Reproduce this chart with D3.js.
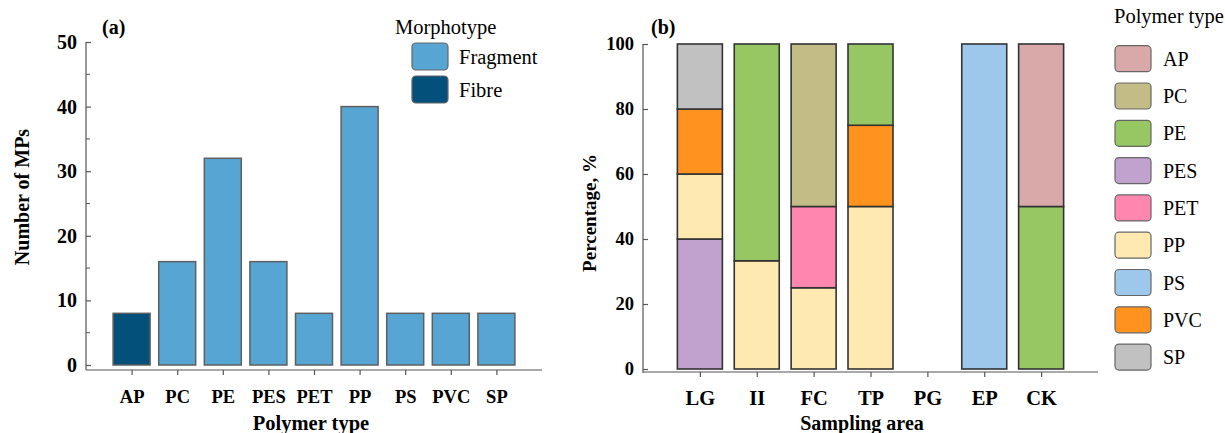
<!DOCTYPE html>
<html>
<head>
<meta charset="utf-8">
<script src="https://cdn.jsdelivr.net/npm/d3@7"></script>
<style>
  body { margin: 0; background: #fff; }
  svg { font-family: "Liberation Serif", "Times New Roman", serif; }
  .tick text { font-weight: bold; }
</style>
</head>
<body>
<div id="chart"></div>
<script>
// Panel (a) data
var polymers = ["AP", "PC", "PE", "PES", "PET", "PP", "PS", "PVC", "SP"];
var counts = [8, 16, 32, 16, 8, 40, 8, 8, 8];
var morph = ["Fibre", "Fragment", "Fragment", "Fragment", "Fragment", "Fragment", "Fragment", "Fragment", "Fragment"];
var morphTypes = ["Fragment", "Fibre"];
var morphColors = ["#56A5D3", "#03507A"];

// Panel (b) data (percent by sampling area)
var areas = ["LG", "II", "FC", "TP", "PG", "EP", "CK"];
var legendTypes = ["AP", "PC", "PE", "PES", "PET", "PP", "PS", "PVC", "SP"];
var typeColors = ["#D8A9A8", "#C4BC86", "#97C763", "#C1A1CD", "#FF87AF", "#FEE9B1", "#9DC8EC", "#FF931E", "#C1C1C1"];
var stackOrder = ["PES", "PP", "PET", "PVC", "PS", "PE", "PC", "AP", "SP"];
var pctAP  = [0, 0, 0, 0, 0, 0, 50];
var pctPC  = [0, 0, 50, 0, 0, 0, 0];
var pctPE  = [0, 66.7, 0, 25, 0, 0, 50];
var pctPES = [40, 0, 0, 0, 0, 0, 0];
var pctPET = [0, 0, 25, 0, 0, 0, 0];
var pctPP  = [20, 33.3, 25, 50, 0, 0, 0];
var pctPS  = [0, 0, 0, 0, 0, 100, 0];
var pctPVC = [20, 0, 0, 25, 0, 0, 0];
var pctSP  = [20, 0, 0, 0, 0, 0, 0];

var W = 1225, H = 433;
var svg = d3.select("#chart").append("svg").attr("width", W).attr("height", H);

var axisColor = "#555";

// ---------- Panel (a) ----------
var xa = d3.scalePoint().domain(polymers).range([86, 542]).padding(1);
var ya = d3.scaleLinear().domain([0, 50]).range([365, 42]);
var cMorph = d3.scaleOrdinal().domain(morphTypes).range(morphColors);
var ga = svg.append("g");

ga.selectAll("rect.bar").data(polymers).enter().append("rect")
  .attr("class", "bar")
  .attr("x", function(d) { return xa(d) - 18.5; })
  .attr("width", 37)
  .attr("y", function(d, i) { return ya(counts[i]); })
  .attr("height", function(d, i) { return ya(0) - ya(counts[i]); })
  .attr("fill", function(d, i) { return cMorph(morph[i]); })
  .attr("stroke", "#5f5f5f").attr("stroke-width", 1.5);

// y axis
var yAxisA = ga.append("g").attr("transform", "translate(86,0)")
  .call(d3.axisRight(ya).tickValues([0, 10, 20, 30, 40, 50]).tickSize(5).tickFormat(d3.format("d")));
yAxisA.selectAll("text").attr("x", -9).attr("text-anchor", "end").style("font-size", "20px");
ga.append("g").attr("transform", "translate(86,0)")
  .selectAll("line").data([5, 15, 25, 35, 45]).enter().append("line")
  .attr("x1", 0).attr("x2", 4).attr("y1", function(d) { return ya(d); }).attr("y2", function(d) { return ya(d); })
  .attr("stroke", axisColor);
yAxisA.select(".domain").attr("d", "M0,42V370");
// x axis
var xAxisA = ga.append("g").attr("transform", "translate(0,370)")
  .call(d3.axisBottom(xa).tickSize(5).tickSizeOuter(0));
xAxisA.selectAll("text").attr("y", 20).style("font-size", "18.5px");
xAxisA.select(".domain").attr("d", "M86,0H542");
[yAxisA, xAxisA].forEach(function(a) {
  a.selectAll("line, .domain").attr("stroke", axisColor).attr("stroke-width", 1.2);
  a.selectAll("text").attr("fill", "#000").style("font-family", "Liberation Serif, serif");
});

ga.append("text").attr("x", 102).attr("y", 34).text("(a)")
  .style("font-weight", "bold").style("font-size", "20px");
ga.append("text").attr("transform", "translate(29,197) rotate(-90)")
  .attr("text-anchor", "middle").text("Number of MPs")
  .style("font-weight", "bold").style("font-size", "20px");
ga.append("text").attr("x", 311).attr("y", 430).attr("text-anchor", "middle").text("Polymer type")
  .style("font-weight", "bold").style("font-size", "20.5px");

// legend (a)
var la = ga.append("g");
la.append("text").attr("x", 395).attr("y", 34).text("Morphotype").style("font-size", "20.5px");
morphTypes.forEach(function(m, i) {
  la.append("rect").attr("x", 412).attr("y", 43 + i * 33).attr("width", 36).attr("height", 27)
    .attr("rx", 4).attr("fill", cMorph(m)).attr("stroke", "#666").attr("stroke-width", 1.2);
  la.append("text").attr("x", 459).attr("y", 64 + i * 33).text(m).style("font-size", "20.5px");
});

// ---------- Panel (b) ----------
var xb = d3.scalePoint().domain(areas).range([643, 1098]).padding(1);
var yb = d3.scaleLinear().domain([0, 100]).range([369, 44]);
var cType = d3.scaleOrdinal().domain(legendTypes).range(typeColors);
var pct = { AP: pctAP, PC: pctPC, PE: pctPE, PES: pctPES, PET: pctPET, PP: pctPP, PS: pctPS, PVC: pctPVC, SP: pctSP };
var rows = areas.map(function(a, i) {
  var r = { area: a };
  stackOrder.forEach(function(k) { r[k] = pct[k][i]; });
  return r;
});
var series = d3.stack().keys(stackOrder)(rows);
var gb = svg.append("g");

gb.selectAll("g.layer").data(series).enter().append("g").attr("class", "layer")
  .attr("fill", function(s) { return cType(s.key); })
  .selectAll("rect").data(function(s) { return s.filter(function(d) { return d[1] - d[0] > 0; }); })
  .enter().append("rect")
  .attr("x", function(d) { return xb(d.data.area) - 22.5; })
  .attr("width", 45)
  .attr("y", function(d) { return yb(d[1]); })
  .attr("height", function(d) { return yb(d[0]) - yb(d[1]); })
  .attr("stroke", "#333").attr("stroke-width", 1.6);

var yAxisB = gb.append("g").attr("transform", "translate(643,0)")
  .call(d3.axisRight(yb).tickValues([0, 20, 40, 60, 80, 100]).tickSize(5).tickFormat(d3.format("d")));
yAxisB.selectAll("text").attr("x", -9).attr("text-anchor", "end").style("font-size", "18.5px");
yAxisB.select(".domain").attr("d", "M0,44V373");
var xAxisB = gb.append("g").attr("transform", "translate(0,372)")
  .call(d3.axisBottom(xb).tickSize(5).tickSizeOuter(0));
xAxisB.selectAll("text").attr("y", 18).style("font-size", "20.5px");
xAxisB.select(".domain").attr("d", "M643,0H1098");
[yAxisB, xAxisB].forEach(function(a) {
  a.selectAll("line, .domain").attr("stroke", axisColor).attr("stroke-width", 1.2);
  a.selectAll("text").attr("fill", "#000").style("font-family", "Liberation Serif, serif");
});

gb.append("text").attr("x", 651).attr("y", 34).text("(b)")
  .style("font-weight", "bold").style("font-size", "20px");
gb.append("text").attr("transform", "translate(596,213) rotate(-90)")
  .attr("text-anchor", "middle").text("Percentage, %")
  .style("font-weight", "bold").style("font-size", "19px");
gb.append("text").attr("x", 862).attr("y", 430).attr("text-anchor", "middle").text("Sampling area")
  .style("font-weight", "bold").style("font-size", "20px");

// legend (b)
var lb = gb.append("g");
lb.append("text").attr("x", 1114).attr("y", 23).text("Polymer type").style("font-size", "20.5px");
legendTypes.forEach(function(t, i) {
  var y0 = 45.7 + i * 37.3;
  lb.append("rect").attr("x", 1115).attr("y", y0).attr("width", 36).attr("height", 26)
    .attr("rx", 4).attr("fill", cType(t)).attr("stroke", "#666").attr("stroke-width", 1.2);
  lb.append("text").attr("x", 1163).attr("y", y0 + 20).text(t).style("font-size", "20px");
});
</script>
</body>
</html>
